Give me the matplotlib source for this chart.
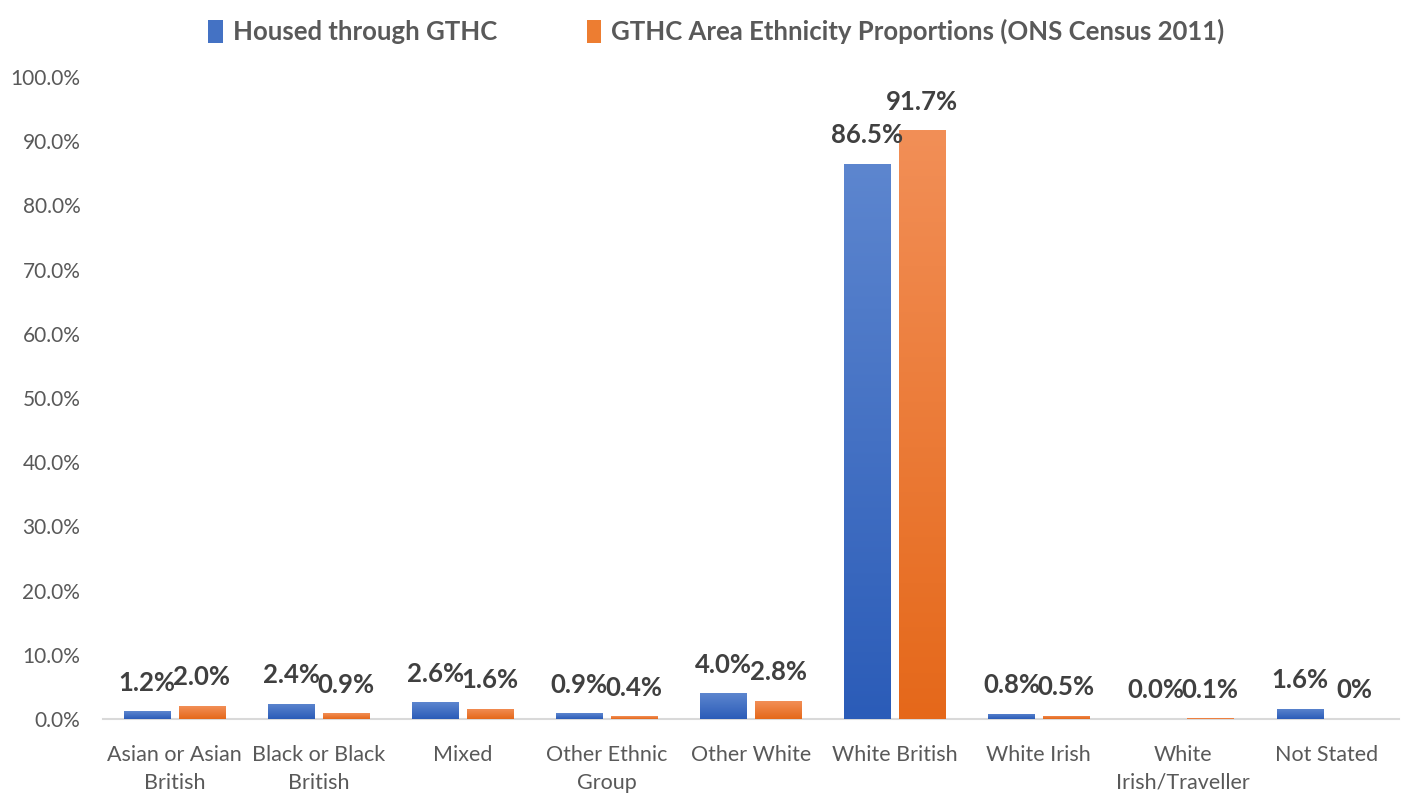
import numpy as np
import matplotlib
matplotlib.use("Agg")
from matplotlib import pyplot as plt
from matplotlib.colors import LinearSegmentedColormap
from matplotlib.patches import Patch

# data
categories = ["Asian or Asian\nBritish", "Black or Black\nBritish", "Mixed",
              "Other Ethnic\nGroup", "Other White", "White British",
              "White Irish", "White\nIrish/Traveller", "Not Stated"]
housed = [1.2, 2.4, 2.6, 0.9, 4.0, 86.5, 0.8, 0.0, 1.6]
census = [2.0, 0.9, 1.6, 0.4, 2.8, 91.7, 0.5, 0.1, 0.0]
housed_labels = ["1.2%", "2.4%", "2.6%", "0.9%", "4.0%", "86.5%", "0.8%", "0.0%", "1.6%"]
census_labels = ["2.0%", "0.9%", "1.6%", "0.4%", "2.8%", "91.7%", "0.5%", "0.1%", "0%"]
series_names = ["Housed through GTHC", "GTHC Area Ethnicity Proportions (ONS Census 2011)"]

plt.rcParams['font.family'] = ['Lato', 'DejaVu Sans']

blue_cm = LinearSegmentedColormap.from_list("b", ["#2b5cb8", "#5d86cf"])
orange_cm = LinearSegmentedColormap.from_list("o", ["#e5681a", "#f28f57"])

fig = plt.figure(figsize=(14.05, 7.94), dpi=100)
ax = fig.add_axes([0.073, 0.0945, 0.9227, 0.8086])

x = np.arange(len(categories))
w = 0.32
off = 0.19
grad = np.linspace(0, 1, 256).reshape(-1, 1)

def gradient_bars(xs, vals, cmap, color):
    bars = ax.bar(xs, vals, w, color=color, edgecolor='none', zorder=2)
    for r in bars:
        h = r.get_height()
        if h <= 0:
            continue
        im = ax.imshow(grad, cmap=cmap, origin='lower', aspect='auto',
                       extent=[r.get_x(), r.get_x() + r.get_width(), 0, h], zorder=3)
        im.set_clip_path(r)
    return bars

b1 = gradient_bars(x - off, housed, blue_cm, "#4472c4")
b2 = gradient_bars(x + off, census, orange_cm, "#ed7d31")

for bars, labs in ((b1, housed_labels), (b2, census_labels)):
    for r, lab in zip(bars, labs):
        ax.annotate(lab, (r.get_x() + r.get_width() / 2, r.get_height()),
                    xytext=(0, 12), textcoords='offset points', ha='center', va='bottom',
                    fontsize=18.5, fontweight='bold', color='#404040', zorder=5)

ax.set_xlim(-0.5, len(categories) - 0.5)
ax.set_ylim(0, 100)
ax.set_yticks(np.arange(0, 101, 10))
ax.set_yticklabels([f"{v:.1f}%" for v in range(0, 101, 10)], fontsize=15)
ax.set_xticks(x)
ax.set_xticklabels(categories, fontsize=15.5, linespacing=1.45)
ax.tick_params(axis='both', length=0, colors='#595959')
ax.tick_params(axis='x', pad=19)
ax.tick_params(axis='y', pad=16)
for s in ['top', 'right', 'left']:
    ax.spines[s].set_visible(False)
ax.spines['bottom'].set_color('#d9d9d9')
ax.spines['bottom'].set_linewidth(1.5)

handles = [Patch(facecolor="#4472c4"), Patch(facecolor="#ed7d31")]
leg = fig.legend(handles, series_names, loc='upper center', bbox_to_anchor=(0.51, 1.005),
                 ncol=2, frameon=False, handlelength=0.55, handleheight=1.0,
                 handletextpad=0.4, columnspacing=3.5,
                 prop={'size': 18.5, 'weight': 'bold'})
for t in leg.get_texts():
    t.set_color('#595959')

fig.savefig("out.png", dpi=100)
